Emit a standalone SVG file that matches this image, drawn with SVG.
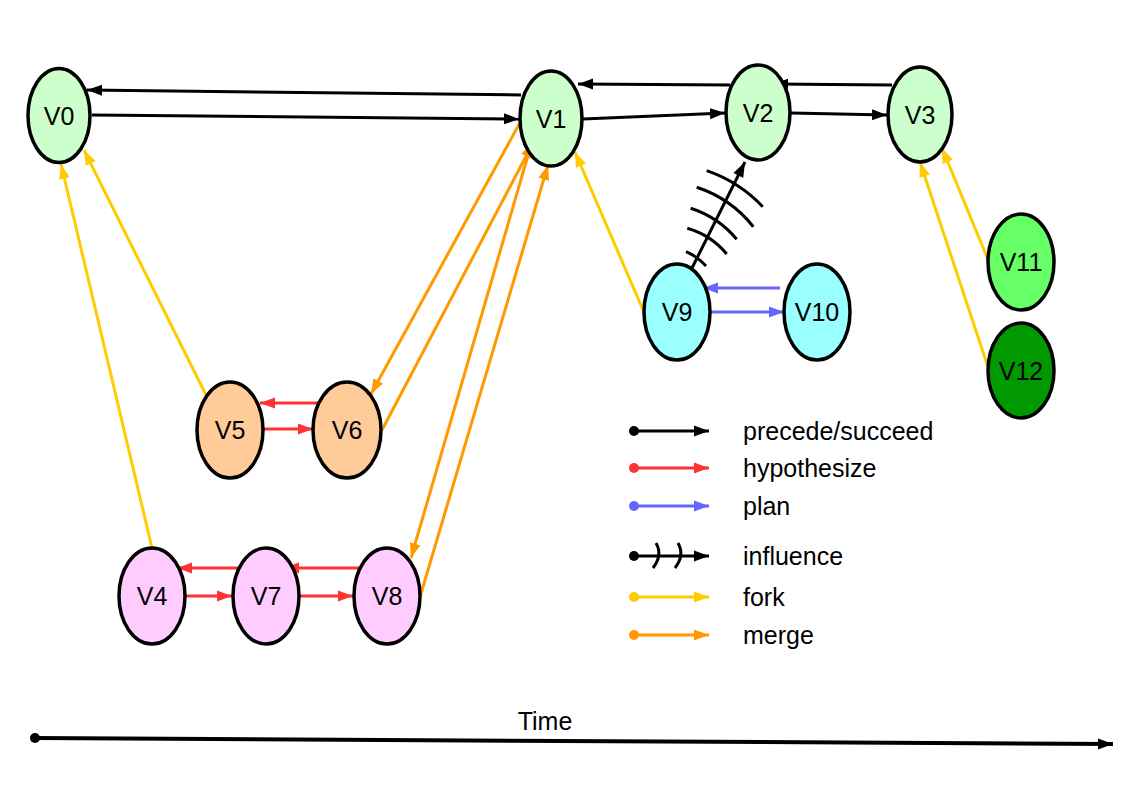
<svg xmlns="http://www.w3.org/2000/svg" width="1123" height="794" viewBox="0 0 1123 794">
<defs>
<marker id="aK" markerUnits="userSpaceOnUse" markerWidth="16" markerHeight="12" viewBox="0 0 16 12" refX="15" refY="6" orient="auto"><path d="M0,0.5 L15,6 L0,11.5 z" fill="#000"/></marker>
<marker id="aR" markerUnits="userSpaceOnUse" markerWidth="16" markerHeight="12" viewBox="0 0 16 12" refX="15" refY="6" orient="auto"><path d="M0,0.5 L15,6 L0,11.5 z" fill="#ff3333"/></marker>
<marker id="aB" markerUnits="userSpaceOnUse" markerWidth="16" markerHeight="12" viewBox="0 0 16 12" refX="15" refY="6" orient="auto"><path d="M0,0.5 L15,6 L0,11.5 z" fill="#6666ff"/></marker>
<marker id="aY" markerUnits="userSpaceOnUse" markerWidth="16" markerHeight="12" viewBox="0 0 16 12" refX="15" refY="6" orient="auto"><path d="M0,0.5 L15,6 L0,11.5 z" fill="#ffcc00"/></marker>
<marker id="aO" markerUnits="userSpaceOnUse" markerWidth="16" markerHeight="12" viewBox="0 0 16 12" refX="15" refY="6" orient="auto"><path d="M0,0.5 L15,6 L0,11.5 z" fill="#ff9900"/></marker>
</defs>
<style>
.n{stroke:#000;stroke-width:3.5}
.t{font-family:"Liberation Sans",Arial,sans-serif;font-size:25px;fill:#000}
.c{text-anchor:middle}
.k{stroke:#000;stroke-width:3;fill:none;marker-end:url(#aK)}
.r{stroke:#ff3333;stroke-width:3;fill:none;marker-end:url(#aR)}
.b{stroke:#6666ff;stroke-width:3;fill:none;marker-end:url(#aB)}
.y{stroke:#ffcc00;stroke-width:3;fill:none;marker-end:url(#aY)}
.o{stroke:#ff9900;stroke-width:3;fill:none;marker-end:url(#aO)}
.arc{stroke:#000;stroke-width:3;fill:none}
.g{fill:#ccffcc}.cy{fill:#99ffff}.pe{fill:#ffcc99}.pk{fill:#ffccff}.lg{fill:#66ff66}.dg{fill:#009900}
</style>
<rect width="1123" height="794" fill="#fff"/>
<g id="connectors">
<line class="k" x1="521" y1="95" x2="87" y2="90"/>
<line class="k" x1="92" y1="115" x2="519" y2="119"/>
<line class="k" x1="730" y1="85" x2="578" y2="84"/>
<line class="k" x1="892" y1="85" x2="773" y2="84"/>
<line class="k" x1="583" y1="119" x2="725" y2="113"/>
<line class="k" x1="791" y1="113" x2="887" y2="115"/>
<g id="influence">
<line class="k" x1="692" y1="268" x2="745" y2="162"/>
<path class="arc" d="M706.7,170.7 A140,140 0 0 1 762.7,206.7"/>
<path class="arc" d="M696.7,187.3 A120,120 0 0 1 753.3,226.7"/>
<path class="arc" d="M690.7,208.3 A99,99 0 0 1 736.7,239.3"/>
<path class="arc" d="M687.3,228.3 A80,80 0 0 1 726.7,254"/>
<path class="arc" d="M686,251.7 A57,57 0 0 1 706,266"/>
</g>
<line class="r" x1="318" y1="403" x2="260" y2="403"/>
<line class="r" x1="263" y1="429" x2="313" y2="429"/>
<line class="r" x1="243" y1="568" x2="177" y2="568"/>
<line class="r" x1="185" y1="596" x2="232" y2="596"/>
<line class="r" x1="365" y1="568" x2="284" y2="568"/>
<line class="r" x1="299" y1="596" x2="353" y2="596"/>
<line class="b" x1="780" y1="288" x2="703" y2="288"/>
<line class="b" x1="709" y1="312" x2="784" y2="312"/>
<line class="y" x1="206" y1="395" x2="84" y2="150"/>
<line class="y" x1="152" y1="548" x2="61" y2="164"/>
<line class="y" x1="643" y1="310" x2="575" y2="152"/>
<line class="y" x1="989" y1="262" x2="942" y2="148"/>
<line class="y" x1="988" y1="367" x2="920" y2="162"/>
<line class="o" x1="522" y1="119" x2="371" y2="394"/>
<line class="o" x1="382" y1="430" x2="533" y2="143"/>
<line class="o" x1="531" y1="145" x2="411" y2="558"/>
<line class="o" x1="420" y1="597" x2="548" y2="165"/>
</g>
<g id="V0"><ellipse class="n g" cx="59" cy="115.5" rx="31" ry="47"/><text class="t c" x="59" y="124.5">V0</text></g>
<g id="V1"><ellipse class="n g" cx="551" cy="118.5" rx="31" ry="47.5"/><text class="t c" x="551" y="127.5">V1</text></g>
<g id="V2"><ellipse class="n g" cx="758" cy="112.5" rx="32" ry="47.5"/><text class="t c" x="758" y="121.5">V2</text></g>
<g id="V3"><ellipse class="n g" cx="920" cy="114.5" rx="32" ry="47.5"/><text class="t c" x="920" y="123.5">V3</text></g>
<g id="V9"><ellipse class="n cy" cx="677" cy="312" rx="33" ry="48"/><text class="t c" x="677" y="321">V9</text></g>
<g id="V10"><ellipse class="n cy" cx="817" cy="312" rx="33" ry="48"/><text class="t c" x="817" y="321">V10</text></g>
<g id="V11"><ellipse class="n lg" cx="1021" cy="262" rx="33" ry="48"/><text class="t c" x="1021" y="271">V11</text></g>
<g id="V12"><ellipse class="n dg" cx="1021" cy="370.5" rx="33" ry="47.5"/><text class="t c" x="1021" y="379.5">V12</text></g>
<g id="V5"><ellipse class="n pe" cx="230" cy="430" rx="33" ry="48"/><text class="t c" x="230" y="439">V5</text></g>
<g id="V6"><ellipse class="n pe" cx="347" cy="430" rx="34" ry="48"/><text class="t c" x="347" y="439">V6</text></g>
<g id="V4"><ellipse class="n pk" cx="152" cy="596" rx="33" ry="48"/><text class="t c" x="152" y="605">V4</text></g>
<g id="V7"><ellipse class="n pk" cx="266" cy="596" rx="33" ry="48"/><text class="t c" x="266" y="605">V7</text></g>
<g id="V8"><ellipse class="n pk" cx="387" cy="596" rx="33" ry="48"/><text class="t c" x="387" y="605">V8</text></g>
<g id="legend">
<line class="k" x1="634" y1="431" x2="709" y2="431"/><circle cx="634" cy="431" r="5" fill="#000"/>
<text class="t" x="743" y="440">precede/succeed</text>
<line class="r" x1="634" y1="468" x2="709" y2="468"/><circle cx="634" cy="468" r="5" fill="#ff3333"/>
<text class="t" x="743" y="477">hypothesize</text>
<line class="b" x1="634" y1="506" x2="709" y2="506"/><circle cx="634" cy="506" r="5" fill="#6666ff"/>
<text class="t" x="743" y="515">plan</text>
<line class="k" x1="634" y1="556" x2="709" y2="556"/><circle cx="634" cy="556" r="5" fill="#000"/>
<path class="arc" d="M656,543 Q663,555 653,568"/>
<path class="arc" d="M678,543 Q685,555 675,568"/>
<text class="t" x="743" y="565">influence</text>
<line class="y" x1="634" y1="597" x2="709" y2="597"/><circle cx="634" cy="597" r="5" fill="#ffcc00"/>
<text class="t" x="743" y="606">fork</text>
<line class="o" x1="634" y1="635" x2="709" y2="635"/><circle cx="634" cy="635" r="5" fill="#ff9900"/>
<text class="t" x="743" y="644">merge</text>
</g>
<g id="time">
<line x1="35" y1="738" x2="1113" y2="744" stroke="#000" stroke-width="4" marker-end="url(#aK)"/>
<circle cx="35" cy="738" r="5" fill="#000"/>
<text class="t c" x="545" y="730">Time</text>
</g>
</svg>
